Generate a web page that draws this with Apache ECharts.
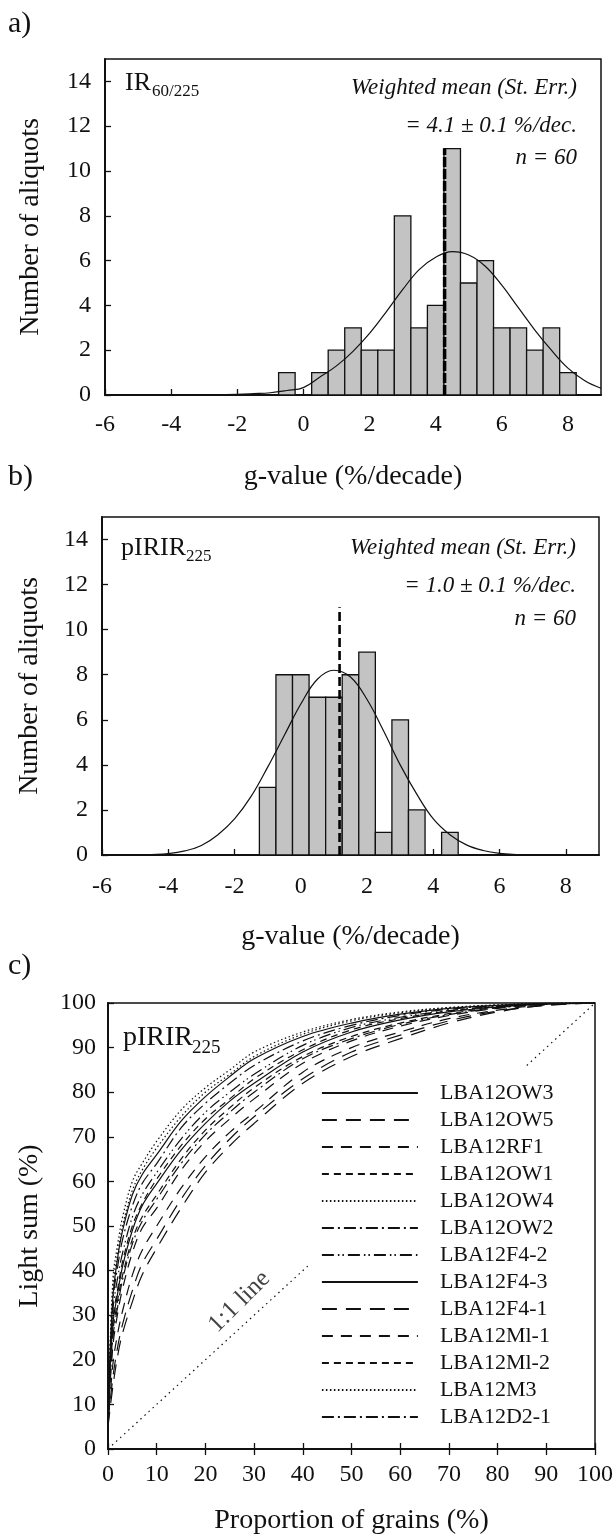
<!DOCTYPE html>
<html><head><meta charset="utf-8">
<script src="https://cdn.jsdelivr.net/npm/echarts@6/dist/echarts.min.js"></script>
<style>html,body{margin:0;padding:0;background:#fff}#c{width:616px;height:1536px}</style>
</head><body><div id="c"></div>
<script>
// ---------- Panel a: IR60/225 g-values ----------
const binCentersA = [-0.5, 0, 0.5, 1, 1.5, 2, 2.5, 3, 3.5, 4, 4.5, 5, 5.5, 6, 6.5, 7, 7.5, 8];
const countsA     = [1, 0, 1, 2, 3, 2, 2, 8, 3, 4, 11, 5, 6, 3, 3, 2, 3, 1];
const fitXA = [-6, -5, -4, -3, -2, -1.5, -1, -0.5, 0, 0.5, 1, 1.5, 2, 2.5, 3, 3.5, 4, 4.5, 5, 5.5, 6, 6.5, 7, 7.5, 8, 8.5, 9];
const fitYA = [0, 0, 0, 0.01, 0.03, 0.06, 0.1, 0.2, 0.33, 0.8, 1.3, 1.95, 2.75, 3.7, 4.7, 5.6, 6.15, 6.4, 6.25, 5.75, 4.9, 3.9, 2.9, 2.0, 1.2, 0.65, 0.3];
const meanLineA = [4.27, 11];

// ---------- Panel b: pIRIR225 g-values ----------
const binCentersB = [-1, -0.5, 0, 0.5, 1, 1.5, 2, 2.5, 3, 3.5, 4, 4.5];
const countsB     = [3, 8, 8, 7, 7, 8, 9, 1, 6, 2, 0, 1];
const fitXB = [-6, -5, -4.5, -4, -3.5, -3, -2.5, -2, -1.5, -1, -0.5, 0, 0.5, 1, 1.5, 2, 2.5, 3, 3.5, 4, 4.5, 5, 5.5, 6, 6.5, 7, 8, 9];
const fitYB = [0, 0, 0.02, 0.06, 0.18, 0.42, 0.9, 1.6, 2.6, 3.9, 5.3, 6.7, 7.8, 8.2, 7.9, 6.9, 5.5, 4.0, 2.7, 1.6, 0.9, 0.45, 0.2, 0.07, 0.02, 0, 0, 0];
const meanLineB = [1.17, 11];

const binWidth = 0.5;
const gTicks = [-6, 9, 2];      // min, max, interval
const countTicks = [0, 15, 2];

// ---------- Panel c: cumulative light sum ----------
const grainPct = [0, 1, 2, 3, 5, 7, 10, 15, 20, 25, 30, 40, 50, 60, 70, 80, 90, 100];
const LBA12OW3 = [9, 34, 43, 49, 57, 61.5, 66, 73.5, 79, 83.5, 87.5, 92.5, 95.5, 97.5, 98.8, 99.5, 99.9, 100];
const LBA12OW5 = [5, 14, 21, 26, 33, 39, 45, 54, 62, 68, 73, 82, 88, 92, 95.5, 98, 99.5, 100];
const LBA12RF1 = [7, 23, 30.5, 36, 44, 49.5, 54, 62.5, 69, 74, 78.5, 86.5, 91.5, 94.8, 97.2, 98.8, 99.7, 100];
const LBA12OW1 = [6, 29, 36, 42, 50, 55, 60.5, 68, 74, 78.5, 83, 89.5, 94, 96.5, 98.2, 99.2, 99.8, 100];
const LBA12OW4 = [8, 38, 46, 52, 60, 64, 69, 76, 81, 85, 89, 93.5, 96.3, 98, 99, 99.6, 99.9, 100];
const LBA12OW2 = [6, 33, 41, 47, 54.5, 59.5, 64, 72, 77.5, 82, 86, 91.5, 95, 97.2, 98.6, 99.4, 99.8, 100];
const LBA12F4_2 = [7, 31, 38.5, 44, 52, 57, 62, 69.5, 75.5, 80, 84, 90.5, 94.5, 96.8, 98.3, 99.3, 99.8, 100];
const LBA12F4_3 = [8, 28, 35, 41, 49, 54.5, 59.5, 67, 73, 78, 82, 89, 93.5, 96.2, 98, 99.1, 99.8, 100];
const LBA12F4_1 = [6, 16, 23, 28, 35.5, 41.5, 47, 56, 63.5, 69.5, 74.5, 83, 89, 92.8, 96, 98.2, 99.5, 100];
const LBA12M1_1 = [5, 19, 26, 31, 39, 44.5, 50, 58.5, 65.5, 71, 75.5, 84.5, 90, 93.5, 96.5, 98.4, 99.6, 100];
const LBA12M1_2 = [6, 26, 33.5, 39, 47, 52, 57, 65, 71.5, 76.5, 81, 88, 92.5, 95.5, 97.6, 99, 99.7, 100];
const LBA12M3  = [7, 36, 44, 50, 58, 62.5, 67.5, 74.5, 80, 84, 88, 93, 96, 97.8, 98.9, 99.5, 99.9, 100];
const LBA12D2_1 = [5, 25, 32, 38, 46, 51, 56, 64, 70.5, 75.5, 80, 87.5, 92, 95.2, 97.4, 98.9, 99.7, 100];
const sampleNames = ['LBA12OW3','LBA12OW5','LBA12RF1','LBA12OW1','LBA12OW4','LBA12OW2','LBA12F4-2','LBA12F4-3','LBA12F4-1','LBA12Ml-1','LBA12Ml-2','LBA12M3','LBA12D2-1'];
const sampleValues = [LBA12OW3, LBA12OW5, LBA12RF1, LBA12OW1, LBA12OW4, LBA12OW2, LBA12F4_2, LBA12F4_3, LBA12F4_1, LBA12M1_1, LBA12M1_2, LBA12M3, LBA12D2_1];
const oneToOneLow = [0, 41];
const oneToOneHigh = [86, 100];
const oneToOneLabelAt = [27, 33];
const pctTicks = [0, 100, 10];

// ---------- styles ----------
const FONT = 'Liberation Serif';
const INK = '#111';
const dashStyles = ['solid', [15, 9], [11, 8], [7, 5], [1.5, 2.5], [12, 4, 2, 4], [12, 4, 1.5, 3, 1.5, 4],
                    'solid', [15, 9], [11, 8], [7, 5], [1.5, 2.5], [12, 4, 2, 4]];

const chart = echarts.init(document.getElementById('c'), null, {renderer: 'canvas'});

function pair(xs, ys) { return xs.map((x, i) => [x, ys[i]]); }

function histRender(params, api) {
  const x = api.value(0), c = api.value(1);
  if (!c) return null;
  const p0 = api.coord([x - binWidth / 2, 0]);
  const p1 = api.coord([x + binWidth / 2, c]);
  return {type: 'rect', shape: {x: p0[0], y: p1[1], width: p1[0] - p0[0], height: p0[1] - p1[1]},
          style: {fill: '#c3c3c3', stroke: INK, lineWidth: 1.3}};
}

function valAxis(grid, ticks, extra) {
  return Object.assign({
    gridIndex: grid, type: 'value', min: ticks[0], max: ticks[1], interval: ticks[2],
    axisLine: {show: true, onZero: false, lineStyle: {color: INK, width: 2}},
    axisTick: {show: true, inside: true, length: 6, lineStyle: {color: INK, width: 1.3}},
    splitLine: {show: false},
    axisLabel: {fontFamily: FONT, fontSize: 24, color: INK, showMaxLabel: false},
    nameLocation: 'middle',
    nameTextStyle: {fontFamily: FONT, fontSize: 28, color: INK}
  }, extra);
}

const gridBase = {show: true, borderColor: INK, borderWidth: 1.5, containLabel: false};

const series = [];
// Panel a
series.push({type: 'custom', xAxisIndex: 0, yAxisIndex: 0, renderItem: histRender, data: pair(binCentersA, countsA), encode: {x: 0, y: 1}, z: 2});
series.push({type: 'line', xAxisIndex: 0, yAxisIndex: 0, data: pair(fitXA, fitYA), smooth: 0.4, symbol: 'none', lineStyle: {color: INK, width: 1.2}, z: 3, silent: true});
series.push({type: 'line', xAxisIndex: 0, yAxisIndex: 0, data: [[meanLineA[0], 0], [meanLineA[0], meanLineA[1]]], symbol: 'none', lineStyle: {color: '#000', width: 3.5, type: [10, 2]}, z: 4});
// Panel b
series.push({type: 'custom', xAxisIndex: 1, yAxisIndex: 1, renderItem: histRender, data: pair(binCentersB, countsB), encode: {x: 0, y: 1}, z: 2});
series.push({type: 'line', xAxisIndex: 1, yAxisIndex: 1, data: pair(fitXB, fitYB), smooth: 0.4, symbol: 'none', lineStyle: {color: INK, width: 1.2}, z: 3});
series.push({type: 'line', xAxisIndex: 1, yAxisIndex: 1, data: [[meanLineB[0], 0], [meanLineB[0], meanLineB[1]]], symbol: 'none', lineStyle: {color: '#000', width: 2.6, type: [9, 4]}, z: 4});
// Panel c
sampleNames.forEach((nm, i) => {
  series.push({name: nm, type: 'line', xAxisIndex: 2, yAxisIndex: 2, data: pair(grainPct, sampleValues[i]),
    smooth: 0.35, symbol: 'none', color: INK,
    lineStyle: {color: INK, width: 1.2, type: dashStyles[i]}, z: 3});
});
series.push({type: 'line', xAxisIndex: 2, yAxisIndex: 2, data: pair(oneToOneLow, oneToOneLow), symbol: 'none', lineStyle: {color: INK, width: 1.2, type: [1.5, 4]}});
series.push({type: 'line', xAxisIndex: 2, yAxisIndex: 2, data: pair(oneToOneHigh, oneToOneHigh), symbol: 'none', lineStyle: {color: INK, width: 1.2, type: [1.5, 4]}});
series.push({type: 'scatter', xAxisIndex: 2, yAxisIndex: 2, data: [oneToOneLabelAt], symbolSize: 0,
  label: {show: true, position: 'inside', formatter: '1:1 line', rotate: 45, fontFamily: FONT, fontSize: 25, color: INK}});

function txt(x, y, text, size, opts) {
  return {type: 'text', x: x, y: y, z: 100, style: Object.assign({text: text, fontFamily: FONT, fontSize: size, fill: INK, align: 'left', verticalAlign: 'middle'}, opts || {})};
}

const graphics = [
  txt(8, 24, 'a)', 30),
  txt(8, 477, 'b)', 30),
  txt(8, 966, 'c)', 30),
  // panel a labels
  txt(125, 83, 'IR', 26),
  txt(152, 92, '60/225', 17),
  txt(577, 88, 'Weighted mean (St. Err.)', 23, {align: 'right', fontStyle: 'italic'}),
  txt(577, 126, '= 4.1 \u00b1 0.1 %/dec.', 23, {align: 'right', fontStyle: 'italic'}),
  txt(577, 158, 'n = 60', 23, {align: 'right', fontStyle: 'italic'}),
  // panel b labels
  txt(121, 548, 'pIRIR', 26),
  txt(186, 557, '225', 17),
  txt(576, 548, 'Weighted mean (St. Err.)', 23, {align: 'right', fontStyle: 'italic'}),
  txt(576, 586, '= 1.0 \u00b1 0.1 %/dec.', 23, {align: 'right', fontStyle: 'italic'}),
  txt(576, 619, 'n = 60', 23, {align: 'right', fontStyle: 'italic'}),
  // panel c label
  txt(123, 1038, 'pIRIR', 28),
  txt(192, 1048, '225', 19)
];

chart.setOption({
  animation: false,
  backgroundColor: '#fff',
  textStyle: {fontFamily: FONT},
  grid: [
    Object.assign({left: 105, top: 59, width: 496, height: 336}, gridBase),
    Object.assign({left: 102, top: 517, width: 497, height: 338}, gridBase),
    Object.assign({left: 108, top: 1003, width: 487, height: 448}, gridBase)
  ],
  xAxis: [
    valAxis(0, gTicks, {name: 'g-value (%/decade)', nameGap: 68, axisLabel: {fontFamily: FONT, fontSize: 24, color: INK, margin: 18, showMaxLabel: false}}),
    valAxis(1, gTicks, {name: 'g-value (%/decade)', nameGap: 68, axisLabel: {fontFamily: FONT, fontSize: 24, color: INK, margin: 20, showMaxLabel: false}}),
    valAxis(2, pctTicks, {name: 'Proportion of grains (%)', nameGap: 58, axisLabel: {fontFamily: FONT, fontSize: 24, color: INK, margin: 14, showMaxLabel: true}}),
    valAxis(2, pctTicks, {position: 'top', axisLine: {show: false}, axisLabel: {show: false}})
  ],
  yAxis: [
    valAxis(0, countTicks, {name: 'Number of aliquots', nameGap: 60, axisLabel: {fontFamily: FONT, fontSize: 24, color: INK, margin: 14, showMaxLabel: false}}),
    valAxis(1, countTicks, {name: 'Number of aliquots', nameGap: 58, axisLabel: {fontFamily: FONT, fontSize: 24, color: INK, margin: 14, showMaxLabel: false}}),
    valAxis(2, pctTicks, {name: 'Light sum (%)', nameGap: 64, axisLabel: {fontFamily: FONT, fontSize: 24, color: INK, margin: 12, showMaxLabel: true}})
  ],
  legend: {
    show: true, orient: 'vertical', left: 321, top: 1082, padding: 0,
    itemWidth: 96, itemHeight: 14, itemGap: 5, selectedMode: false,
    data: sampleNames,
    itemStyle: {opacity: 0},
    lineStyle: {width: 1.8},
    textStyle: {fontFamily: FONT, fontSize: 22, color: INK, padding: [0, 0, 0, 17]}
  },
  series: series,
  graphic: graphics
});
</script></body></html>
